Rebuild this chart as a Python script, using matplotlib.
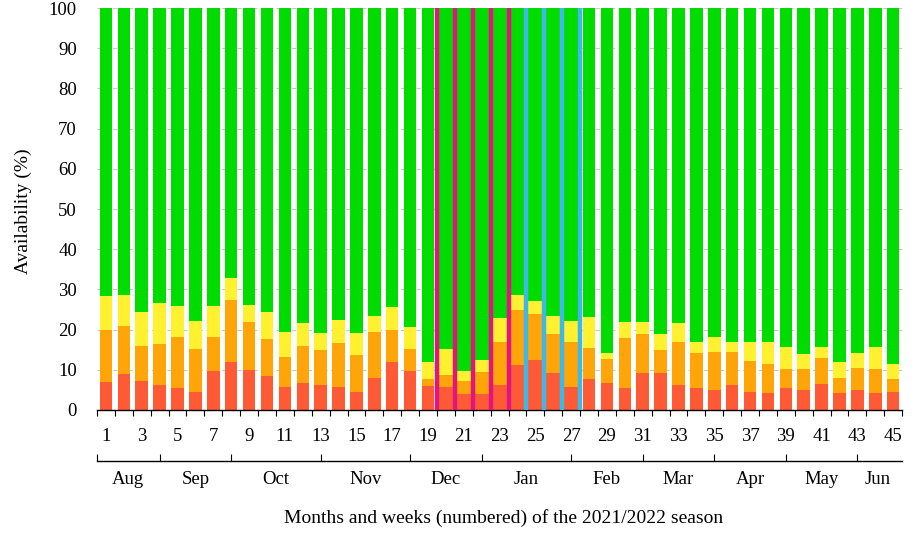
import matplotlib
matplotlib.use("Agg")
import matplotlib.pyplot as plt
import numpy as np

# weekly availability, stacked cumulative tops (%)
weeks = np.arange(1, 46)
red_top = [7.0, 8.9, 7.3, 6.1, 5.5, 4.6, 9.8, 11.9, 10.0, 8.5,
           5.8, 6.6, 6.1, 5.8, 4.6, 8.0, 11.9, 9.8, 6.0, 5.8,
           3.9, 3.9, 6.3, 11.2, 12.4, 9.1, 5.8, 7.6, 6.6, 5.5,
           9.1, 9.1, 6.1, 5.5, 5.1, 6.1, 4.5, 4.3, 5.5, 5.0,
           6.5, 4.3, 5.0, 4.3, 4.6]
orange_top = [20.0, 21.0, 15.8, 16.4, 18.2, 15.3, 18.2, 27.4, 21.9, 17.7,
              13.1, 16.0, 14.9, 16.7, 13.6, 19.5, 20.0, 15.2, 7.7, 8.6,
              7.3, 9.4, 17.0, 24.9, 23.9, 18.8, 16.8, 15.5, 12.7, 18.0,
              18.8, 14.9, 17.0, 14.3, 14.5, 14.5, 12.2, 11.5, 10.3, 10.3,
              12.9, 7.9, 10.4, 10.1, 7.8]
yellow_top = [28.4, 28.6, 24.4, 26.5, 25.9, 22.2, 25.9, 32.8, 26.0, 24.4,
              19.5, 21.6, 19.1, 22.4, 19.1, 23.5, 25.6, 20.6, 11.9, 15.3,
              9.8, 12.4, 22.8, 28.6, 27.1, 23.4, 22.2, 23.1, 14.3, 21.9,
              21.9, 18.9, 21.6, 16.8, 18.2, 17.0, 17.0, 17.0, 15.6, 14.0,
              15.6, 11.9, 14.3, 15.7, 11.5]
magenta_weeks = [20, 21, 22, 23]
cyan_weeks = [25, 26, 27]

months = ["Aug", "Sep", "Oct", "Nov", "Dec", "Jan", "Feb", "Mar", "Apr", "May", "Jun"]
month_edges = [0.5, 4, 8, 13, 18, 22, 27, 31, 35, 39, 43, 45.3]

RED = "#ff5a36"
ORANGE = "#ffa50a"
YELLOW = "#fff030"
GREEN = "#00dc00"
MAGENTA = "#e0157f"
CYAN = "#3cb9e8"

plt.rcParams["font.family"] = ["Liberation Serif", "DejaVu Serif"]
plt.rcParams["font.size"] = 13.5

red = np.array(red_top)
orange = np.array(orange_top) - red
yellow = np.array(yellow_top) - np.array(orange_top)
green = 100 - np.array(yellow_top)

wide = set(range(magenta_weeks[0], cyan_weeks[-1] + 1))
widths = [1.0 if w in wide else 0.7 for w in weeks]

fig = plt.figure(figsize=(9.18, 5.37), dpi=100)
ax = fig.add_axes([0.1057, 0.2365, 0.877, 0.7485])

ax.yaxis.grid(True, color="#c8c8c8", linestyle=(0, (4, 3)), linewidth=0.8)
ax.set_axisbelow(True)

ax.bar(weeks, red, width=widths, color=RED, linewidth=0)
ax.bar(weeks, orange, width=widths, bottom=red, color=ORANGE, linewidth=0)
ax.bar(weeks, yellow, width=widths, bottom=orange_top, color=YELLOW, linewidth=0)
ax.bar(weeks, green, width=widths, bottom=yellow_top, color=GREEN, linewidth=0)

# highlighted weeks: thick coloured edges between bars
mag_x = [magenta_weeks[0] - 0.5] + [w + 0.5 for w in magenta_weeks]
cyan_x = [cyan_weeks[0] - 0.5] + [w + 0.5 for w in cyan_weeks]
ax.vlines(mag_x, 0, 100, color=MAGENTA, linewidth=3.2, zorder=3)
ax.vlines(cyan_x, 0, 100, color=CYAN, linewidth=3.2, zorder=3)

ax.set_xlim(0.5, 45.3)
ax.set_ylim(0, 100)
ax.set_yticks(np.arange(0, 101, 10))
ax.set_xticks(weeks[::2])
ax.set_xticks(np.arange(0.5, 45.6, 1), minor=True)
ax.tick_params(axis="x", which="major", length=0, pad=13)
ax.tick_params(axis="x", which="minor", length=4, width=0.8, direction="out")
ax.tick_params(axis="y", length=0, pad=14.5)
for s in ["top", "right", "left"]:
    ax.spines[s].set_visible(False)
ax.spines["bottom"].set_linewidth(1.0)
ax.set_ylabel("Availability (%)", fontsize=14)
ax.yaxis.set_label_coords(-0.081, 0.495)

# month bracket below the week numbers
sec = ax.secondary_xaxis(-0.127)
sec.spines["bottom"].set_linewidth(1.0)
sec.set_xticks(month_edges[:-1])
sec.set_xticklabels([])
centers = [(a + b) / 2 for a, b in zip(month_edges[:-1], month_edges[1:])]
sec.set_xticks(centers, minor=True)
sec.set_xticklabels(months, minor=True)
sec.tick_params(axis="x", which="major", direction="in", length=5, width=0.8)
sec.tick_params(axis="x", which="minor", length=0, pad=7.5)

fig.text(0.5485, 1 - 518 / 537, "Months and weeks (numbered) of the 2021/2022 season",
         ha="center", va="center", fontsize=14)

fig.savefig("out.png", dpi=100)
